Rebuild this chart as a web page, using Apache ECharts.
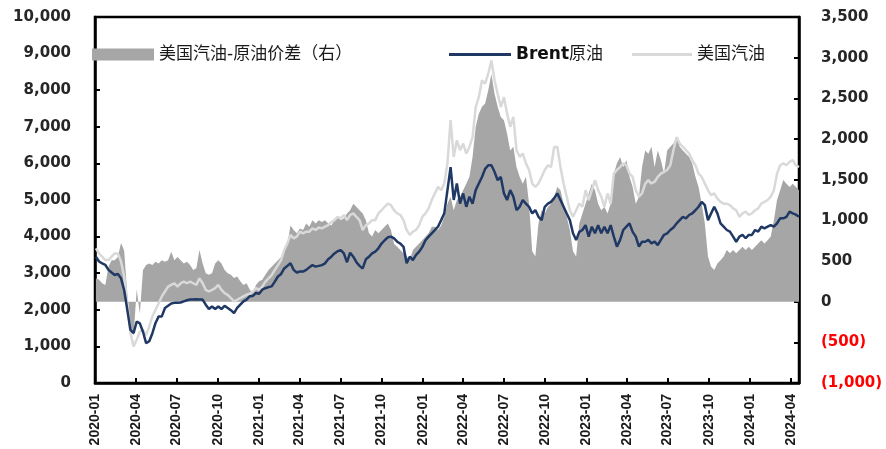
<!DOCTYPE html>
<html>
<head>
<meta charset="utf-8">
<script src="https://cdn.jsdelivr.net/npm/echarts@6/dist/echarts.min.js"></script>
<style>
html,body{margin:0;padding:0;background:#fff;}
#c{width:886px;height:449px;}
</style>
</head>
<body>
<div id="c"></div>
<script>
// Weekly observations, first week ending 2020-01-03
const startDate = '2020-01-03';
const quarterLabels = ['2020-01','2020-04','2020-07','2020-10','2021-01','2021-04','2021-07','2021-10',
  '2022-01','2022-04','2022-07','2022-10','2023-01','2023-04','2023-07','2023-10','2024-01','2024-04'];

const brent = [3450,3320,3270,3230,3090,3020,2950,2980,2860,2540,
 2000,1450,1360,1680,1630,1400,1090,1140,1360,1640,
 1820,1820,2050,2110,2170,2190,2190,2200,2230,2260,
 2280,2280,2290,2280,2280,2140,2020,2090,2020,2090,
 2020,2110,2050,1990,1910,2050,2140,2230,2280,2370,
 2380,2460,2440,2550,2590,2620,2640,2770,2910,2980,
 3130,3200,3270,3090,3020,3045,3045,3090,3160,3220,
 3180,3200,3220,3270,3380,3450,3540,3600,3630,3540,
 3300,3560,3450,3300,3200,3130,3380,3450,3540,3590,
 3680,3810,3900,3980,4000,3950,3860,3810,3720,3270,
 3450,3360,3500,3590,3720,3900,4000,4090,4180,4270,
 4450,4640,5270,5900,5000,5450,4900,5180,4815,5090,
 4900,5270,5450,5630,5850,5950,5950,5770,5540,5630,
 5180,5000,5270,5090,4725,4815,5000,4900,4815,4635,
 4725,4540,4450,4815,4900,4950,5050,5180,5000,4815,
 4630,4450,4090,3905,4130,4180,4315,4000,4270,4090,
 4315,4090,4270,4090,4315,4000,3725,3910,4180,4270,
 4360,4130,4000,3725,3860,3860,3910,3815,3860,3770,
 3910,4050,4090,4180,4250,4360,4450,4540,4500,4590,
 4635,4720,4815,4950,4860,4450,4635,4815,4635,4360,
 4270,4180,4135,4000,3860,4000,4045,3955,4045,4045,
 4180,4135,4270,4225,4270,4315,4270,4360,4500,4500,
 4540,4680,4635,4600,4540];

const gasoline = [3680,3540,3450,3360,3360,3450,3540,3540,3320,2910,
 2180,1365,1000,1180,1400,1450,1310,1545,1820,2000,
 2180,2365,2500,2635,2680,2725,2635,2725,2770,2725,
 2770,2725,2680,2860,2725,2545,2500,2545,2590,2680,
 2545,2455,2410,2320,2230,2275,2320,2365,2410,2440,
 2500,2590,2545,2635,2770,2860,2950,3090,3220,3360,
 3635,3815,4045,3950,4000,4135,4090,4135,4135,4225,
 4180,4250,4225,4270,4315,4400,4450,4540,4500,4590,
 4450,4590,4635,4540,4450,4180,4315,4360,4450,4450,
 4635,4720,4815,4900,4860,4720,4635,4590,4450,4180,
 4045,4135,4180,4315,4540,4635,4770,5000,5180,5360,
 5270,5450,6000,7180,6180,6630,6360,6540,6270,6450,
 6720,7540,7810,8270,8180,8450,8810,8270,7900,7540,
 7810,7360,7000,7270,6360,6180,6270,6000,5820,5450,
 5360,5450,5630,5820,5950,5900,6450,6450,5900,5450,
 5090,4720,4540,4720,4900,4815,5270,5000,5270,5540,
 5270,5090,4815,5180,4900,5720,5820,5900,6000,5950,
 5720,5630,5270,5090,5180,5450,5540,5450,5500,5630,
 5720,5770,5820,5950,6360,6720,6540,6450,6360,6270,
 6090,5950,5720,5630,5450,5270,5130,5180,5040,4950,
 4900,4900,4860,4770,4720,4540,4635,4680,4590,4635,
 4720,4770,4900,4950,5000,5090,5270,5720,5950,6000,
 5950,6040,6090,5950,5900];

const spread = [287,270,225,205,430,510,510,550,720,630,
 100,-300,-420,150,-150,390,450,470,450,490,
 470,510,490,510,615,510,550,510,470,490,
 450,390,410,636,470,350,330,350,470,510,
 470,390,350,330,290,310,250,205,225,150,
 100,205,250,270,330,390,430,470,510,550,
 635,715,935,880,840,900,880,960,920,1000,
 960,1000,980,1000,960,935,1000,1045,1000,1025,
 1085,1125,1205,1165,1125,1085,1000,840,800,880,
 840,880,920,960,880,710,675,635,595,555,
 510,635,675,715,755,800,840,920,920,880,
 935,1045,1205,1290,1125,1250,1290,1370,1450,1535,
 1780,2150,2310,2395,2435,2600,2800,2555,2395,2270,
 2230,2065,1860,1905,1655,1535,1450,1535,1205,620,
 555,960,1125,1085,1165,1205,1290,1410,1370,1205,
 1045,880,620,555,960,1085,1205,1330,1450,1370,
 1205,1125,1165,1085,1205,1575,1700,1780,1655,1740,
 1535,1410,1205,1290,1655,1860,1820,1905,1655,1860,
 1740,1575,1860,1905,1945,2025,1905,1860,1820,1780,
 1700,1535,1410,1205,960,555,430,390,470,510,
 555,635,595,635,595,635,675,635,675,635,
 675,715,755,715,755,800,1000,1250,1370,1495,
 1450,1410,1450,1410,1370];

const names = ['美国汽油-原油价差（右）', 'Brent原油', '美国汽油'];

function ts(str) { const p = str.split('-').map(Number); return new Date(p[0], p[1] - 1, p[2] || 1).getTime(); }
const DAY = 86400000;
const t0 = ts(startDate);
const dates = brent.map((_, i) => t0 + i * 7 * DAY);
const quarterTicks = quarterLabels.map(ts);
const pair = arr => arr.map((v, i) => [dates[i], v]);
const fmt = v => Math.abs(v).toLocaleString('en-US');
const pad = n => (n < 10 ? '0' : '') + n;

const LF = "'DejaVu Sans', 'Noto Sans CJK SC', sans-serif";
const CJK = "'DejaVu Sans', 'Noto Sans CJK SC', sans-serif";

const chart = echarts.init(document.getElementById('c'), null, {renderer: 'canvas'});
chart.setOption({
  animation: false,
  backgroundColor: '#fff',
  grid: {left: 95, right: 87, top: 17, bottom: 66, show: true, borderColor: '#000', borderWidth: 2.5, outerBoundsMode: 'none', containLabel: false},
  legend: [
    {left: 92, top: 46, itemWidth: 62, itemHeight: 12, selectedMode: false, padding: 0,
     data: [{name: names[0], icon: 'rect'}],
     textStyle: {fontFamily: CJK, fontSize: 17, color: '#1a1a1a'}},
    {left: 449, top: 46, itemWidth: 62, itemHeight: 3, selectedMode: false, padding: 0,
     data: [{name: names[1], icon: 'rect'}],
     formatter: () => '{b|Brent}{r|原油}',
     textStyle: {fontFamily: CJK, fontSize: 17, color: '#1a1a1a',
       rich: {b: {fontFamily: LF, fontWeight: 'bold', fontSize: 17, color: '#111'}, r: {fontFamily: CJK, fontSize: 17, color: '#1a1a1a'}}}},
    {left: 632, top: 46, itemWidth: 60, itemHeight: 3, selectedMode: false, padding: 0,
     data: [{name: names[2], icon: 'rect'}],
     textStyle: {fontFamily: CJK, fontSize: 17, color: '#1a1a1a'}}
  ],
  xAxis: {
    type: 'value',
    min: ts('2020-01-01'),
    max: dates[dates.length - 1],
    axisLine: {show: true, onZero: false, lineStyle: {color: '#000', width: 2.5}},
    axisTick: {show: true, inside: true, length: 5, customValues: quarterTicks, lineStyle: {color: '#000', width: 2}},
    axisLabel: {
      customValues: quarterTicks, rotate: 90, margin: 11, hideOverlap: false,
      fontFamily: "'Liberation Sans', Arial, sans-serif",
      fontWeight: 'bold', fontSize: 14, color: '#1a1a1a',
      formatter: v => { const d = new Date(v); return d.getFullYear() + '-' + pad(d.getMonth() + 1); }
    },
    splitLine: {show: false}
  },
  yAxis: [
    {type: 'value', min: 0, max: 10000, interval: 1000,
     axisLine: {show: true, lineStyle: {color: '#000', width: 2.5}},
     axisTick: {show: true, inside: true, length: 5, lineStyle: {color: '#000', width: 2}},
     axisLabel: {margin: 24, fontFamily: LF, fontWeight: 'bold', fontSize: 15, color: '#262626', formatter: v => fmt(v)},
     splitLine: {show: false}},
    {type: 'value', position: 'right', min: -1000, max: 3500, interval: 500,
     axisLine: {show: true, lineStyle: {color: '#000', width: 2.5}},
     axisTick: {show: true, inside: true, length: 5, lineStyle: {color: '#000', width: 2}},
     axisLabel: {margin: 22, fontFamily: LF, fontWeight: 'bold', fontSize: 15,
       formatter: v => v < 0 ? '{neg|(' + fmt(v) + ')}' : '{pos|' + fmt(v) + '}',
       rich: {neg: {color: '#ff0000', fontFamily: LF, fontWeight: 'bold', fontSize: 15},
              pos: {color: '#262626', fontFamily: LF, fontWeight: 'bold', fontSize: 15}}},
     splitLine: {show: false}}
  ],
  series: [
    {name: names[0], type: 'line', yAxisIndex: 1, data: pair(spread), symbol: 'none',
     lineStyle: {width: 0, color: '#a6a6a6'}, itemStyle: {color: '#a6a6a6'},
     areaStyle: {color: '#a6a6a6', opacity: 1}, z: 1},
    {name: names[1], type: 'line', yAxisIndex: 0, data: pair(brent), symbol: 'none',
     lineStyle: {width: 2.5, color: '#1f3864'}, itemStyle: {color: '#1f3864'}, z: 3},
    {name: names[2], type: 'line', yAxisIndex: 0, data: pair(gasoline), symbol: 'none',
     lineStyle: {width: 2.5, color: '#d9d9d9'}, itemStyle: {color: '#d9d9d9'}, z: 2}
  ]
});
</script>
</body>
</html>
